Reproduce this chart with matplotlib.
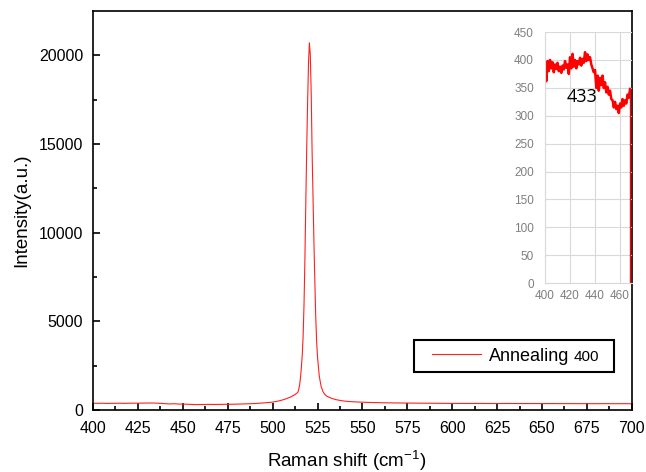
import numpy as np
import matplotlib.pyplot as plt
from matplotlib.patches import Rectangle

plt.rcParams['font.family'] = ['Liberation Sans', 'DejaVu Sans']
plt.rcParams['mathtext.default'] = 'regular'

# spectre principal (Raman shift, intensite)
shift = [400, 402.5, 405, 407.5, 410, 412.5, 415, 417.5, 420, 422.5, 425, 427.5,
         430, 432.5, 435, 437.5, 440, 442.5, 445, 447.5, 450, 452.5, 455, 457.5,
         460, 462.5, 465, 467.5, 470, 472.5, 475, 477.5, 480, 482.5, 485, 487.5,
         490, 492.5, 495, 497.5, 500, 502.5, 505, 507.5, 510, 512, 513, 514,
         514.5, 515, 515.5, 516, 516.5, 517, 517.5, 518, 518.5, 519, 519.5, 520,
         520.5, 521, 521.5, 522, 522.5, 523, 523.5, 524, 524.5, 525, 526, 527,
         528, 529, 530, 532.5, 535, 537.5, 540, 545, 550, 555, 560, 565, 570,
         575, 580, 585, 590, 595, 600, 605, 610, 615, 620, 625, 630, 635, 640,
         645, 650, 655, 660, 665, 670, 675, 680, 685, 690, 695, 700]
intens = [390, 385, 392, 380, 388, 386, 393, 384, 390, 395, 392, 398,
          400, 405, 398, 385, 368, 350, 362, 345, 343, 335, 322, 312,
          318, 320, 326, 322, 325, 328, 332, 335, 340, 348, 355, 362,
          375, 390, 410, 430, 455, 500, 560, 640, 740, 850, 920, 1000,
          1150, 1400, 1800, 2400, 3100, 4200, 6000, 8600, 11800, 14800, 17400, 19600,
          20700, 20000, 17800, 14500, 12000, 9500, 7300, 5300, 3900, 3000, 1900, 1350,
          1050, 900, 800, 680, 600, 550, 510, 470, 450, 432, 420, 412, 405,
          400, 396, 392, 390, 385, 382, 380, 378, 380, 376, 374, 378, 375, 372,
          374, 370, 372, 368, 370, 366, 368, 365, 368, 364, 366, 362]

# zoom 400-468 (encart), derniere valeur = chute a 0
shift_zoom = list(range(400, 469)) + [468]
intens_zoom = [392, 362, 398, 380, 400, 385, 396, 378, 392, 384, 395, 380,
               388, 377, 390, 383, 398, 386, 392, 375, 405, 385, 411, 388,
               400, 385, 398, 392, 404, 390, 402, 395, 414, 398, 410, 400,
               405, 392, 385, 378, 382, 350, 372, 345, 368, 355, 372, 350,
               360, 342, 352, 338, 345, 330, 328, 315, 325, 312, 318, 305,
               322, 315, 330, 318, 328, 322, 338, 332, 348, 0]

fig = plt.figure(figsize=(6.46, 4.72), dpi=100)
ax = fig.add_axes([0.144, 0.131, 0.834, 0.846])

ax.plot(shift, intens, color='#ff2020', lw=0.8, label='Annealing')
ax.set_xlim(400, 700)
ax.set_ylim(0, 22500)
ax.set_xticks(np.arange(400, 701, 25))
ax.set_xticks(np.arange(412.5, 700, 25), minor=True)
ax.set_yticks(np.arange(0, 20001, 5000))
ax.set_yticks(np.arange(2500, 22500, 5000), minor=True)
ax.tick_params(which='both', direction='in', top=False, right=False, labelsize=11.5, width=1.2)
ax.tick_params(which='major', length=5)
ax.tick_params(which='minor', length=3)
ax.tick_params(axis='x', pad=8)
ax.tick_params(axis='y', pad=7)
for s in ax.spines.values():
    s.set_linewidth(1.2)
ax.set_xlabel('Raman shift (cm$^{-1}$)', fontsize=13.5, labelpad=9)
ax.xaxis.label.set_x(0.47)
ax.set_ylabel('Intensity(a.u.)', fontsize=13.5, labelpad=6)

# legende : cadre + entree
ax.add_patch(Rectangle((0.596, 0.095), 0.371, 0.080, transform=ax.transAxes,
                       facecolor='white', edgecolor='black', lw=1.5, zorder=4))
leg = ax.legend(loc='center left', bbox_to_anchor=(0.629, 0.135), frameon=False,
                fontsize=13, handlelength=2.7, handletextpad=0.45,
                borderpad=0, borderaxespad=0)
leg.set_zorder(5)

# encart
axi = fig.add_axes([0.8437, 0.400, 0.1347, 0.532])
axi.set_facecolor('none')
axi.plot(shift_zoom[:-1], intens_zoom[:-1], color='red', lw=1.8)
axi.plot(shift_zoom[-2:], intens_zoom[-2:], color='red', lw=1.0)
axi.set_xlim(400, 469.6)
axi.set_ylim(0, 450)
axi.set_xticks([400, 420, 440, 460])
axi.set_yticks(np.arange(0, 451, 50))
axi.grid(color='#d9d9d9', lw=0.8)
axi.set_axisbelow(True)
axi.tick_params(length=0, labelsize=8.5, labelcolor='#7f7f7f')
axi.tick_params(axis='x', pad=5)
axi.tick_params(axis='y', pad=8)
axi.spines['top'].set_visible(False)
axi.spines['right'].set_visible(False)
axi.spines['left'].set_color('#d9d9d9')
axi.spines['bottom'].set_color('#d9d9d9')
axi.text(430, 333, '433', fontsize=13, family=['Open Sans', 'DejaVu Sans'],
         ha='center', va='center')

# "400" en plus petit apres le texte de legende, meme ligne de base
fig.canvas.draw()
bb = leg.get_texts()[0].get_window_extent()
W, H = fig.canvas.get_width_height()
fig.text((bb.x1 + 4) / W, (bb.y0 + 3.8) / H, '400', fontsize=11, va='baseline', ha='left', zorder=6)

plt.savefig('out.png', dpi=100)
